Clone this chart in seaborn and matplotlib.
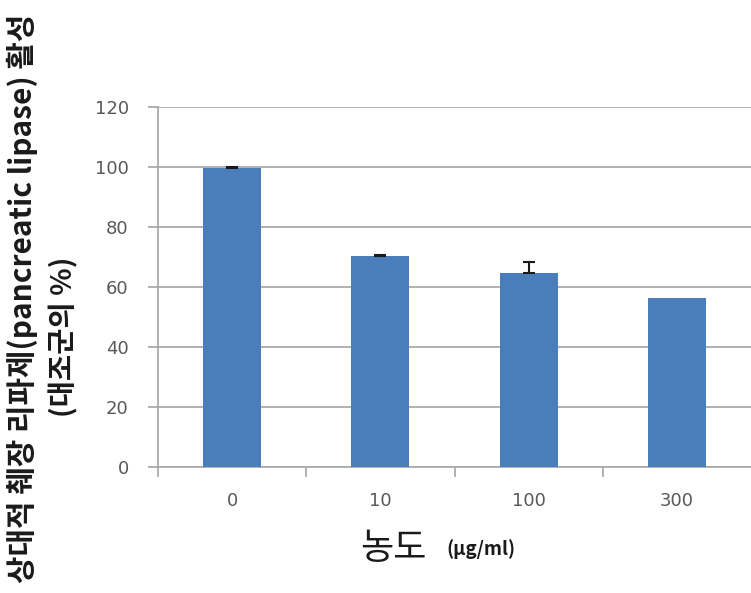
import matplotlib
matplotlib.use("Agg")
import matplotlib.pyplot as plt
import seaborn as sns
import pandas as pd
import numpy as np

categories = ["0", "10", "100", "300"]
values = [99.7, 70.3, 64.6, 56.4]
errors = [0.3, 0.4, 3.6, 0.0]
yticks = [0, 20, 40, 60, 80, 100, 120]

sns.set_theme(style="white")
plt.rcParams['font.family'] = ['Noto Sans CJK KR', 'DejaVu Sans']

df = pd.DataFrame({"conc": categories, "val": values})

fig = plt.figure(figsize=(7.51, 5.93), dpi=100)
ax = fig.add_axes([158/751, 1 - 467/593, 1 - 158/751, (467 - 107)/593])

sns.barplot(data=df, x="conc", y="val", color="#4A7EBB", saturation=1,
            width=0.39, ax=ax, zorder=3)
for p in ax.patches:
    p.set_edgecolor("none")
xs = np.arange(len(categories))
mask = np.array(errors) > 0
ax.errorbar(xs[mask], np.array(values)[mask],
            yerr=[np.zeros(mask.sum()), np.array(errors)[mask]], fmt="none",
            ecolor="#1a1a1a", elinewidth=1.5, capsize=4, capthick=1.5, zorder=4)

ax.set_ylim(0, 120)
ax.set_xlim(-0.5, 3.5)
ax.set_yticks(yticks)
ax.set_yticklabels([str(t) for t in yticks])
ax.yaxis.grid(True, color="#ABABAB", linewidth=1.3, zorder=0)
ax.set_axisbelow(True)
for s in ["top", "right"]:
    ax.spines[s].set_visible(False)
ax.spines["left"].set_color("#ABABAB")
ax.spines["left"].set_linewidth(1.3)
ax.spines["bottom"].set_color("#ABABAB")
ax.spines["bottom"].set_linewidth(1.3)

ax.tick_params(axis="y", which="major", length=7, color="#ABABAB", width=1.3,
               labelsize=13, labelcolor="#595959", pad=14, direction="out", left=True)
ax.tick_params(axis="x", which="major", length=0, labelsize=13,
               labelcolor="#595959", pad=18)
ax.set_xticks([-0.5, 0.5, 1.5, 2.5], minor=True)
ax.tick_params(axis="x", which="minor", length=7, color="#ABABAB", width=1.3,
               direction="out", bottom=True)
for lab in ax.get_yticklabels() + ax.get_xticklabels():
    lab.set_family(['DejaVu Sans'])

ax.set_xlabel("")
ax.set_ylabel("")

# Y-axis title (two lines)
fig.text(22/751, 1 - 298/593, "상대적 췌장 리파제(pancreatic lipase) 활성",
         rotation=90, ha="center", va="center", fontsize=21.5,
         fontweight="bold", color="#1a1a1a")
fig.text(64/751, 1 - 337/593, "(대조군의 %)",
         rotation=90, ha="center", va="center", fontsize=20.5,
         fontweight="bold", color="#1a1a1a")

# X-axis title
fig.text(360/751, 1 - 549/593, "농도", ha="left", va="center",
         fontsize=26, color="#1a1a1a")
fig.text(446/751, 1 - 549/593, "(μg/ml)", ha="left", va="center",
         fontsize=13.5, fontweight="bold", color="#1a1a1a")

fig.savefig("out.png", dpi=100)
